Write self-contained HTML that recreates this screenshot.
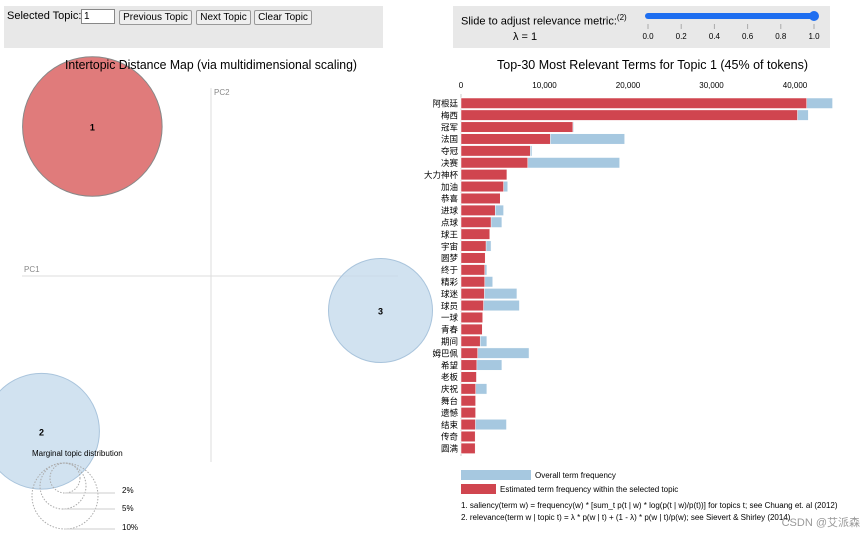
<!DOCTYPE html>
<html><head><meta charset="utf-8"><style>
body{margin:0;width:865px;height:539px;background:#fff;font-family:"Liberation Sans","Noto Sans CJK SC",sans-serif;overflow:hidden;position:relative}
.box{position:absolute;background:#e8e8e8}
button{font-family:"Liberation Sans",sans-serif;font-size:10px;padding:0;background:#efefef;border:1px solid #999;border-radius:2px;height:15px;white-space:nowrap;position:absolute;top:4px;box-sizing:border-box}
</style></head><body>
<div class="box" style="left:4px;top:6px;width:379px;height:42px">
<span style="position:absolute;left:3px;top:4px;font-size:11px;white-space:nowrap">Selected Topic:</span>
<input value="1" style="position:absolute;left:77px;top:3px;width:34px;height:15px;box-sizing:border-box;font-size:10px;padding:0 2px;border:1px solid #888">
<button style="left:115px;width:73px">Previous Topic</button>
<button style="left:192px;width:55px">Next Topic</button>
<button style="left:250px;width:58px">Clear Topic</button>
</div>
<div class="box" style="left:453px;top:6px;width:377px;height:42px">
<span style="position:absolute;left:8px;top:7px;font-size:11px;white-space:nowrap">Slide to adjust relevance metric:<sup style="font-size:8px">(2)</sup></span>
<span style="position:absolute;left:60px;top:25px;font-size:11px">λ = 1</span>
</div>
<svg width="865" height="539" style="position:absolute;left:0;top:0" font-family="Liberation Sans, Noto Sans CJK SC, sans-serif">
<g>
<line x1="648" y1="16" x2="814" y2="16" stroke="#1e6ef0" stroke-width="6" stroke-linecap="round"/>
<circle cx="814" cy="16" r="5" fill="#1e6ef0"/>
<g id="sticks" font-size="8" text-anchor="middle" fill="#000"></g>
</g>
<line x1="211" y1="88" x2="211" y2="462" stroke="#ddd"/>
<line x1="22" y1="276" x2="398" y2="276" stroke="#ddd"/>
<text x="214" y="95" font-size="8" fill="#888">PC2</text>
<text x="24" y="272" font-size="8" fill="#888">PC1</text>
<g id="topics"></g>
<text x="65" y="69" font-size="13" textLength="292" lengthAdjust="spacingAndGlyphs">Intertopic Distance Map (via multidimensional scaling)</text>
<text x="497" y="69" font-size="13" textLength="311" lengthAdjust="spacingAndGlyphs">Top-30 Most Relevant Terms for Topic 1 (45% of tokens)</text>
<text x="32" y="456" font-size="8">Marginal topic distribution</text>
<g fill="none" stroke="#aaa" stroke-dasharray="1.5,1.5">
<circle cx="65" cy="478" r="15"/><circle cx="63" cy="486" r="23"/><circle cx="65" cy="496" r="33"/>
<g stroke="#ccc" stroke-dasharray="none"><line x1="65" y1="493" x2="115" y2="493"/><line x1="63" y1="509" x2="115" y2="509"/><line x1="65" y1="529" x2="115" y2="529"/></g>
</g>
<g font-size="8"><text x="122" y="493">2%</text><text x="122" y="511">5%</text><text x="122" y="530">10%</text></g>
<g id="bars"></g>
<rect x="461" y="470" width="70" height="10" fill="#a6c8e0"/>
<text x="535" y="478" font-size="8">Overall term frequency</text>
<rect x="461" y="484" width="35" height="10" fill="#d0454f"/>
<text x="500" y="492" font-size="8">Estimated term frequency within the selected topic</text>
<text x="461" y="508" font-size="8">1. saliency(term w) = frequency(w) * [sum_t p(t | w) * log(p(t | w)/p(t))] for topics t; see Chuang et. al (2012)</text>
<text x="461" y="520" font-size="8">2. relevance(term w | topic t) = λ * p(w | t) + (1 - λ) * p(w | t)/p(w); see Sievert &amp; Shirley (2014)</text>
<text x="860" y="526" font-size="11" fill="#999" text-anchor="end">CSDN @艾派森</text>
</svg>
<script>
const terms=["阿根廷","梅西","冠军","法国","夺冠","决赛","大力神杯","加油","恭喜","进球","点球","球王","宇宙","圆梦","终于","精彩","球迷","球员","一球","青春","期间","姆巴佩","希望","老板","庆祝","舞台","遗憾","结束","传奇","圆满"];
const topicFreq=[41.4,40.3,13.4,10.7,8.3,8.0,5.5,5.1,4.7,4.1,3.6,3.45,3.0,2.9,2.85,2.85,2.8,2.7,2.6,2.55,2.3,2.0,1.9,1.85,1.76,1.75,1.75,1.73,1.7,1.7];
const overallFreq=[44.5,41.6,13.5,19.6,8.5,19.0,5.5,5.6,4.7,5.1,4.9,3.45,3.6,2.9,3.1,3.8,6.7,7.0,2.6,2.6,3.1,8.15,4.9,1.9,3.1,1.75,1.75,5.45,1.7,1.7];
const xTicks=[0,10000,20000,30000,40000];
const sliderTicks=[0,0.2,0.4,0.6,0.8,1.0];
const topicIds=[1,2,3];
const topicX=[-0.21,-0.3,0.3];
const topicY=[0.26,-0.27,-0.06];
const topicSize=[45,31,25];
const NS="http://www.w3.org/2000/svg";
function mk(t,a,p){const e=document.createElementNS(NS,t);for(const k in a)e.setAttribute(k,a[k]);p.appendChild(e);return e;}
const bx=k=>461+k*8.35; // k in thousands
const by=i=>98+i*11.9;
const bars=document.getElementById('bars');
xTicks.forEach(t=>{const e=mk('text',{x:bx(t/1000),y:88,'font-size':8,'text-anchor':'middle'},bars);e.textContent=t.toLocaleString('en-US');

});
mk('line',{x1:461,y1:94,x2:461,y2:456,stroke:'#ccc'},bars);
terms.forEach((t,i)=>{
 const o=mk('rect',{x:461,y:by(i),width:bx(overallFreq[i])-461,height:10.5,fill:'#a6c8e0',stroke:'#fff','stroke-width':0.5},bars);
 
 
 const r=mk('rect',{x:461,y:by(i),width:bx(topicFreq[i])-461,height:10.5,fill:'#d0454f',stroke:'#fff','stroke-width':0.5},bars);
 
 
 const l=mk('text',{x:458,y:by(i)+8.5,'font-size':8.5,'text-anchor':'end'},bars);l.textContent=t;
 
 
});
const st=document.getElementById('sticks');
sliderTicks.forEach(v=>{const x=648+v*166;mk('line',{x1:x,y1:24,x2:x,y2:29,stroke:'#aaa'},st);const e=mk('text',{x:x,y:39},st);e.textContent=v.toFixed(1);

});
const tg=document.getElementById('topics');
const px=v=>211+v*565, py=v=>276-v*575;
topicIds.forEach((id,i)=>{
 const r=Math.sqrt(topicSize[i])*10.4;
 const sel=i===0;
 const c=mk('circle',{cx:px(topicX[i]),cy:py(topicY[i]),r:r,fill:sel?'#e07b7b':'#c6dbec','fill-opacity':sel?1:0.8,stroke:sel?'#888':'#a9c4dc','stroke-width':1},tg);
 
 
 const t=mk('text',{x:px(topicX[i]),y:py(topicY[i])+4,'font-size':9,'font-weight':'bold','text-anchor':'middle'},tg);t.textContent=id;
 
 
});
</script>
</body></html>
